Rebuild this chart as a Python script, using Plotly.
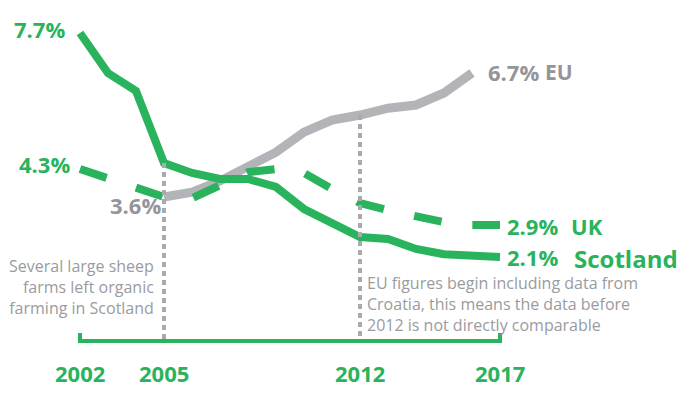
import plotly.graph_objects as go

years = list(range(2002, 2018))
scotland = [7.7, 6.7, 6.25, 4.45, 4.2, 4.05, 4.05, 3.85, 3.3, 2.95, 2.6, 2.55, 2.3, 2.17, 2.12, 2.1]
uk = [4.3, 4.05, 3.83, 3.6, 3.57, 3.9, 4.22, 4.3, 4.2, 3.8, 3.45, 3.27, 3.12, 2.97, 2.9, 2.9]
eu_years = list(range(2005, 2017))
eu = [3.6, 3.72, 4.0, 4.35, 4.72, 5.22, 5.52, 5.65, 5.82, 5.9, 6.2, 6.7]
tick_years = [2002, 2005, 2012, 2017]
marker_years = [2005, 2012]

GREEN = "#29b35c"
GREY_LINE = "#b3b4b8"
GREY_TEXT = "#949599"
NOTE_TEXT = "#9a9b9f"
DOT = "#a9aaad"

fig = go.Figure()
fig.add_trace(go.Scatter(x=eu_years, y=eu, mode="lines",
                         line=dict(color=GREY_LINE, width=9), hoverinfo="skip"))
fig.add_trace(go.Scatter(x=years, y=uk, mode="lines",
                         line=dict(color=GREEN, width=8, dash="28px,31px"), hoverinfo="skip"))
fig.add_trace(go.Scatter(x=years, y=scotland, mode="lines",
                         line=dict(color=GREEN, width=8), hoverinfo="skip"))

# vertical dotted markers
top_2005 = scotland[years.index(2005)]
top_2012 = eu[eu_years.index(2012)]
for xv, top in zip(marker_years, [top_2005, top_2012]):
    fig.add_trace(go.Scatter(x=[xv, xv], y=[top, 0], mode="lines",
                             line=dict(color=DOT, width=4, dash="5px,4px"), hoverinfo="skip"))

# baseline axis with end ticks
x0, x1 = years[0], years[-1]
fig.add_trace(go.Scatter(x=[x0, x0, x1, x1], y=[0.2, 0, 0, 0.2], mode="lines",
                         line=dict(color=GREEN, width=4), hoverinfo="skip"))

FONT = "Open Sans"
ann = []
for ty in tick_years:
    ann.append(dict(x=ty, y=0, yshift=-32, text=f"<b>{ty}</b>", showarrow=False,
                    xanchor="center", yanchor="middle",
                    font=dict(family=FONT, size=22, color=GREEN)))

def lab(x, y, text, xs, ys, color, size=22, anchor="left"):
    ann.append(dict(x=x, y=y, xshift=xs, yshift=ys, text=f"<b>{text}</b>", showarrow=False,
                    xanchor=anchor, yanchor="middle", borderpad=0,
                    font=dict(family=FONT, size=size, color=color)))

lab(2002, scotland[0], "7.7%", -14, 4, GREEN, anchor="right")
lab(2002, uk[0], "4.3%", -9, 5, GREEN, anchor="right")
lab(2005, eu[0], "3.6%", -2, -8, GREY_TEXT, anchor="right")
lab(eu_years[-1], eu[-1], "6.7%", 15, 1, GREY_TEXT)
lab(eu_years[-1], eu[-1], "EU", 72, 1, GREY_TEXT, size=21)
lab(2017, uk[-1], "2.9%", 6, -1, GREEN)
lab(2017, uk[-1], "UK", 70, -1, GREEN)
lab(2017, scotland[-1], "2.1%", 6, 0, GREEN)
lab(2017, scotland[-1], "Scotland", 73, -1, GREEN, size=24)

ann.append(dict(x=2005, y=1.35, xshift=-8, text="Several large sheep<br>farms left organic<br>farming in Scotland",
                showarrow=False, xanchor="right", yanchor="middle", align="right",
                font=dict(family=FONT, size=16, color=NOTE_TEXT)))
ann.append(dict(x=2012, y=0.95, xshift=6, yshift=-1, borderpad=0,
                text="EU figures begin including data from<br>Croatia, this means the data before<br>2012 is not directly comparable",
                showarrow=False, xanchor="left", yanchor="middle", align="left",
                font=dict(family=FONT, size=16, color=NOTE_TEXT)))

# the page body has an 8px margin, so the figure is 16px smaller than the window
X0PX = 72   # pixel position of the first year inside the figure
PXYR = 28
ZEROPX = 333
PXPCT = 40
W, H = 672, 380
fig.update_layout(
    width=W, height=H, margin=dict(l=0, r=0, t=0, b=0),
    paper_bgcolor="white", plot_bgcolor="white", showlegend=False,
    xaxis=dict(visible=False, range=[2002 - X0PX / PXYR, 2002 + (W - X0PX) / PXYR], fixedrange=True),
    yaxis=dict(visible=False, range=[(ZEROPX - H) / PXPCT, ZEROPX / PXPCT], fixedrange=True),
    annotations=ann,
)
fig.write_html("out.html")
